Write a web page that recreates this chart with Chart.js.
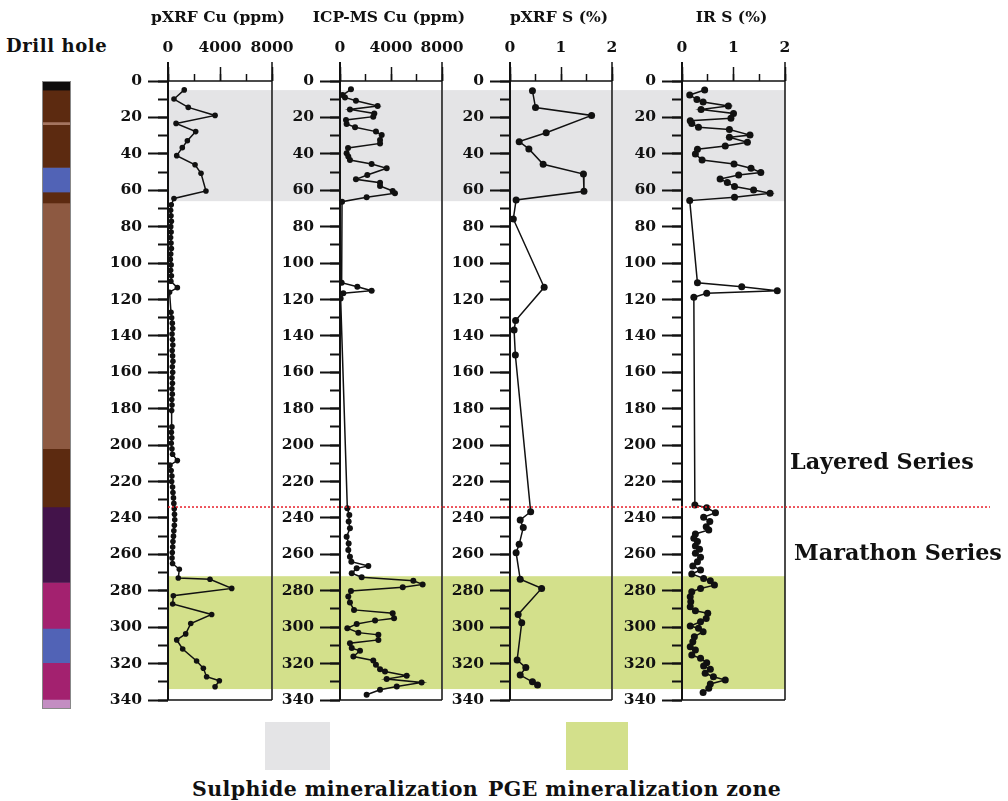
<!DOCTYPE html>
<html lang="en">
<head>
<meta charset="UTF-8">
<title>Drill hole geochemistry</title>
<script src="https://cdn.jsdelivr.net/npm/chart.js"></script>
<style>
    body { margin: 0; background: #fff; }
    .page { position: relative; width: 1008px; height: 801px; overflow: hidden; font-family: "DejaVu Serif", serif; color: #111; }
    .page canvas, .lbl, .swatch { position: absolute; }
    .lbl { font-weight: bold; white-space: nowrap; line-height: 1; }
</style>
</head>
<body>
<div class="page">
    <div class="lbl" style="left:6px; top:37px; font-size:18px; letter-spacing:0.6px;">Drill hole</div>
    <canvas id="hole" width="29" height="628" style="left:42px; top:81px;"></canvas>
    <canvas id="p1" width="208" height="720" style="left:100px; top:0; z-index:4;"></canvas>
    <canvas id="p2" width="206" height="720" style="left:272px; top:0; z-index:3;"></canvas>
    <canvas id="p3" width="206" height="720" style="left:442px; top:0; z-index:2;"></canvas>
    <canvas id="p4" width="378" height="720" style="left:612px; top:0; z-index:1;"></canvas>
    <div class="lbl" style="left:790px; top:450px; font-size:22.3px; z-index:5;">Layered Series</div>
    <div class="lbl" style="left:794px; top:541px; font-size:22.3px; z-index:5;">Marathon Series</div>
    <div class="swatch" id="swGray" style="left:265px; top:722px; width:65px; height:48px;"></div>
    <div class="swatch" id="swGreen" style="left:566px; top:722px; width:62px; height:48px;"></div>
    <div class="lbl" style="left:192px; top:779px; font-size:20.5px; letter-spacing:0.4px;">Sulphide mineralization</div>
    <div class="lbl" style="left:488px; top:779px; font-size:20.5px; letter-spacing:0.4px;">PGE mineralization zone</div>
</div>

<script>
    // 深度 (m) 与各测量值
    const pxrfCuDepth = [4.9, 9.9, 14.5, 18.9, 23.3, 27.8, 32.8, 36.6, 41, 46, 50.7, 60.4, 64.5,
        68, 71, 74, 77, 80, 83, 86, 89, 92, 95, 98, 101, 104, 107, 110, 113.5, 116,
        127, 130, 133, 136, 139, 142, 145, 148, 151, 154, 157, 160, 163, 166, 169, 172, 175, 178, 181,
        190, 193, 196, 199, 202, 205, 208.5, 211, 214, 217, 220, 223, 226, 229, 232, 235, 238, 241,
        244, 247, 250, 253, 256, 259, 262, 265, 268.2, 273, 273.7, 278.7, 282.7, 287.3, 293, 298,
        303.7, 307, 312, 318.6, 322.6, 327.2, 329.4, 332.7];
    const pxrfCuPpm = [1250, 460, 1560, 3620, 620, 2130, 1490, 1100, 670, 2080, 2540, 2920, 460,
        250, 200, 230, 260, 210, 240, 200, 230, 260, 210, 180, 240, 200, 260, 220, 720, 120,
        230, 280, 330, 360, 310, 340, 370, 320, 350, 380, 330, 360, 310, 340, 300, 330, 290, 310, 280,
        300, 260, 290, 250, 300, 350, 720, 150, 240, 300, 280, 350, 380, 420, 450, 480, 500, 520,
        490, 450, 420, 380, 360, 330, 310, 350, 870, 790, 3230, 4900, 410, 360, 3360, 1750,
        1360, 670, 1130, 2200, 2720, 2970, 3950, 3620];

    const icpCuDepth = [4.6, 7.7, 9.0, 10.8, 13.7, 15.6, 17.8, 19.6, 21.4, 23.6, 25.4, 27.8, 29.7, 32.4,
        34.3, 36.8, 39.7, 41.5, 43.4, 45.6, 47.9, 51.6, 54, 55.9, 57.7, 60.4, 61.7, 63.9, 66.3,
        110.8, 113, 115.2, 116.6, 119.4,
        234.7, 238.4, 242, 245.7, 250.3, 254, 257.6, 261.3, 264, 266.4, 267.7, 270.4, 272.6, 274.5,
        276.5, 278.1, 280.1, 283.2, 286.5, 290.5, 292.3, 295.1, 296.4, 298.2, 300.6, 303, 304.2, 307,
        308.8, 311.5, 313, 316.1, 318.3, 320.7, 323.1, 324.3, 326.7, 328.5, 330.4, 332.6, 334.4, 337.1];
    const icpCuPpm = [860, 210, 390, 1250, 2950, 780, 2690, 2610, 470, 520, 1180, 2820, 3270, 3140,
        3140, 630, 520, 650, 780, 2480, 3660, 2140, 1250, 3140, 3140, 4130, 4310, 2090, 160,
        130, 1360, 2480, 260, 50,
        575, 730, 680, 780, 520, 680, 650, 780, 890, 2220, 1310, 920, 1700, 5750,
        6480, 4920, 860, 650, 780, 1100, 4130, 4240, 2750, 1310, 575, 1440, 3010, 3010,
        780, 920, 1570, 1050, 2610, 2820, 3140, 3530, 5230, 3660, 6400, 4450, 3140, 2090];

    const pxrfSDepth = [5.3, 14.6, 18.9, 28.4, 33.3, 37.3, 45.7, 51.1, 60.6, 65.3, 75.8, 113.3, 131.6,
        136.8, 150.5, 236.6, 241.1, 245.3, 254.5, 259.1, 273.7, 278.7, 293, 297.5, 318, 322.2, 326.3, 330, 331.7];
    const pxrfSPct = [0.44, 0.50, 1.60, 0.71, 0.18, 0.37, 0.65, 1.44, 1.45, 0.12, 0.065, 0.67, 0.11,
        0.08, 0.105, 0.405, 0.20, 0.26, 0.18, 0.12, 0.20, 0.62, 0.16, 0.23, 0.14, 0.31, 0.20, 0.44, 0.54];

    const irSDepth = [4.9, 7.7, 10.1, 11.5, 13.7, 15.6, 17.8, 20.5, 21.8, 23.3, 25.4, 26.6, 29.7, 30.9,
        33.7, 35.7, 37.5, 40.1, 43.4, 45.6, 47.9, 50.3, 51.6, 53.8, 55.8, 58, 59.9, 61.7, 63.9, 65.7,
        110.8, 113, 115.2, 116.6, 118.8, 232.9,
        234.4, 237.1, 239.6, 242, 244.8, 246.6, 248.8, 251.2, 253, 255.4, 257.2, 259.4, 261.6, 264,
        266.4, 268.6, 270.8, 273.2, 274.5, 276.9, 278.7, 280.5, 283.3, 286, 288.8, 291, 292.4, 295.2,
        297, 299.4, 300.6, 302.5, 305.2, 308, 310.7, 312.5, 315.3, 317.1, 319.5, 321.3, 323.1, 325.3,
        327.2, 329, 331.2, 333.5, 335.9];
    const irSPct = [0.44, 0.15, 0.29, 0.41, 0.90, 0.37, 1.00, 0.95, 0.16, 0.19, 0.32, 0.92, 1.32, 0.92,
        1.27, 0.84, 0.30, 0.26, 0.39, 1.01, 1.34, 1.53, 1.10, 0.74, 0.88, 1.02, 1.39, 1.71, 1.02, 0.15,
        0.30, 1.16, 1.85, 0.48, 0.23, 0.25,
        0.48, 0.65, 0.42, 0.54, 0.47, 0.52, 0.26, 0.23, 0.30, 0.26, 0.34, 0.26, 0.36, 0.30,
        0.21, 0.36, 0.19, 0.42, 0.55, 0.63, 0.36, 0.19, 0.16, 0.17, 0.16, 0.26, 0.50, 0.47,
        0.36, 0.16, 0.32, 0.41, 0.24, 0.21, 0.16, 0.26, 0.19, 0.36, 0.48, 0.42, 0.55, 0.45,
        0.61, 0.84, 0.55, 0.52, 0.41];

    // 钻孔岩性分层 (m)
    const layerTop  = [0, 5, 22.5, 24, 47.5, 61, 67, 202, 234, 275.5, 300.7, 319.6, 339.7];
    const layerBase = [5, 22.5, 24, 47.5, 61, 67, 202, 234, 275.5, 300.7, 319.6, 339.7, 345];
    const layerColors = ['#0e0c0c', '#5c2a10', '#a57560', '#5c2a10', '#5163b6', '#5c2a10', '#8d5941',
        '#5c2a10', '#43134a', '#a3216f', '#5163b6', '#a3216f', '#c38dc2'];

    const sulphideZone = [5, 66];
    const pgeZone = [272, 334];
    const seriesContact = 234;

    const bandGray = '#e4e4e6';
    const bandGreen = '#d3e08b';
    const ink = '#111';

    document.getElementById('swGray').style.background = bandGray;
    document.getElementById('swGreen').style.background = bandGreen;

    Chart.defaults.font.family = "'DejaVu Serif', serif";
    Chart.defaults.font.weight = 'bold';
    Chart.defaults.font.size = 15.5;
    Chart.defaults.color = ink;

    // 背景色带、红色分界线、边框和标题
    const panelDecor = {
        id: 'panelDecor',
        beforeDraw(chart, args, opts) {
            const { ctx, chartArea: a, scales: { y } } = chart;
            const x0 = a.left - opts.extLeft;
            ctx.save();
            [[sulphideZone, bandGray], [pgeZone, bandGreen]].forEach(([z, c]) => {
                const t = y.getPixelForValue(z[0]);
                const b = y.getPixelForValue(z[1]);
                ctx.fillStyle = c;
                ctx.fillRect(x0, t, a.right - x0, b - t);
            });
            ctx.restore();
        },
        afterDraw(chart, args, opts) {
            const { ctx, chartArea: a, scales: { y } } = chart;
            ctx.save();
            ctx.strokeStyle = ink;
            ctx.lineWidth = 2;
            ctx.beginPath();
            ctx.moveTo(a.left, a.top - 19);
            ctx.lineTo(a.left, a.bottom);
            ctx.stroke();
            ctx.lineWidth = 1.5;
            ctx.beginPath();
            ctx.moveTo(a.right, a.top - 19);
            ctx.lineTo(a.right, a.bottom);
            ctx.moveTo(a.left, a.top);
            ctx.lineTo(a.right, a.top);
            ctx.moveTo(a.left, a.bottom);
            ctx.lineTo(a.right, a.bottom);
            ctx.stroke();

            const ry = y.getPixelForValue(seriesContact);
            ctx.strokeStyle = '#e8202a';
            ctx.lineWidth = 1.5;
            ctx.setLineDash([2, 2]);
            ctx.beginPath();
            ctx.moveTo(a.left - opts.extLeft, ry);
            ctx.lineTo(a.right + opts.extRight, ry);
            ctx.stroke();

            // 标题不压缩宽度
            ctx.fillStyle = ink;
            ctx.font = "bold 15.5px 'DejaVu Serif', serif";
            ctx.textAlign = 'center';
            ctx.textBaseline = 'middle';
            ctx.fillText(opts.title, (a.left + a.right) / 2 - 2, 18);
            ctx.restore();
        }
    };

    function makePanel(id, title, depth, values, xMax, yWidth, extLeft, extRight, padRight, radius) {
        const pts = depth.map((d, i) => ({ x: values[i], y: d }));
        const depthAxis = {
            type: 'linear', position: 'left', reverse: true, min: 0, max: 340,
            border: { display: false }
        };
        const valueAxis = {
            type: 'linear', position: 'top', min: 0, max: xMax,
            border: { display: false }
        };
        new Chart(document.getElementById(id), {
            type: 'scatter',
            data: {
                datasets: [{
                    data: pts,
                    showLine: true,
                    borderColor: ink,
                    borderWidth: 1.5,
                    backgroundColor: ink,
                    pointRadius: radius,
                    pointBorderWidth: 0
                }]
            },
            options: {
                responsive: false,
                animation: false,
                devicePixelRatio: 1,
                layout: { padding: { left: 0, right: padRight, top: 0, bottom: 20 } },
                plugins: {
                    legend: { display: false },
                    tooltip: { enabled: false },
                    panelDecor: { extLeft: extLeft, extRight: extRight, title: title }
                },
                scales: {
                    x: Object.assign({}, valueAxis, {
                        weight: 1,
                        afterFit: s => { s.height = 81; },
                        ticks: { stepSize: xMax / 2, padding: 10, maxRotation: 0, callback: v => String(v) },
                        grid: { drawOnChartArea: false, tickLength: 14, tickColor: ink, tickWidth: 1.5 }
                    }),
                    x2: Object.assign({}, valueAxis, {
                        weight: 0,
                        afterFit: s => { s.height = 0; },
                        ticks: { display: false, stepSize: xMax / 4 },
                        grid: { drawOnChartArea: false, tickLength: 7, tickColor: ink, tickWidth: 1.5 }
                    }),
                    y: Object.assign({}, depthAxis, {
                        weight: 1,
                        afterFit: s => { s.width = yWidth; },
                        ticks: { stepSize: 20, padding: 6 },
                        grid: { drawOnChartArea: false, tickLength: 20, tickColor: ink, tickWidth: 2 }
                    }),
                    y2: Object.assign({}, depthAxis, {
                        weight: 0,
                        afterFit: s => { s.width = 0; },
                        ticks: { display: false, stepSize: 10 },
                        grid: { drawOnChartArea: false, tickLength: 10, tickColor: ink, tickWidth: 2 }
                    })
                }
            },
            plugins: [panelDecor]
        });
    }

    makePanel('p1', 'pXRF Cu (ppm)', pxrfCuDepth, pxrfCuPpm, 8000, 68, 0, 0, 36, 2.8);
    makePanel('p2', 'ICP-MS Cu (ppm)', icpCuDepth, icpCuPpm, 8000, 68, 67, 0, 36, 3);
    makePanel('p3', 'pXRF S (%)', pxrfSDepth, pxrfSPct, 2, 68, 67, 0, 36, 3.5);
    makePanel('p4', 'IR S (%)', irSDepth, irSPct, 2, 70, 69, 205, 205, 3.5);

    // 钻孔柱状图
    const holeFrame = {
        id: 'holeFrame',
        afterDraw(chart) {
            const { ctx, chartArea: a } = chart;
            ctx.save();
            ctx.strokeStyle = '#888';
            ctx.lineWidth = 1;
            ctx.strokeRect(a.left + 0.5, a.top + 0.5, a.right - a.left - 1, a.bottom - a.top - 1);
            ctx.restore();
        }
    };

    new Chart(document.getElementById('hole'), {
        type: 'bar',
        data: {
            labels: ['Drill hole'],
            datasets: layerTop.map((t, i) => ({
                data: [[t, layerBase[i]]],
                backgroundColor: layerColors[i],
                borderWidth: 0,
                grouped: false,
                barPercentage: 1,
                categoryPercentage: 1
            }))
        },
        options: {
            responsive: false,
            animation: false,
            devicePixelRatio: 1,
            layout: { padding: 0 },
            plugins: { legend: { display: false }, tooltip: { enabled: false } },
            scales: {
                x: { display: false },
                y: { display: false, reverse: true, min: 0, max: 345 }
            }
        },
        plugins: [holeFrame]
    });
</script>
</body>
</html>
